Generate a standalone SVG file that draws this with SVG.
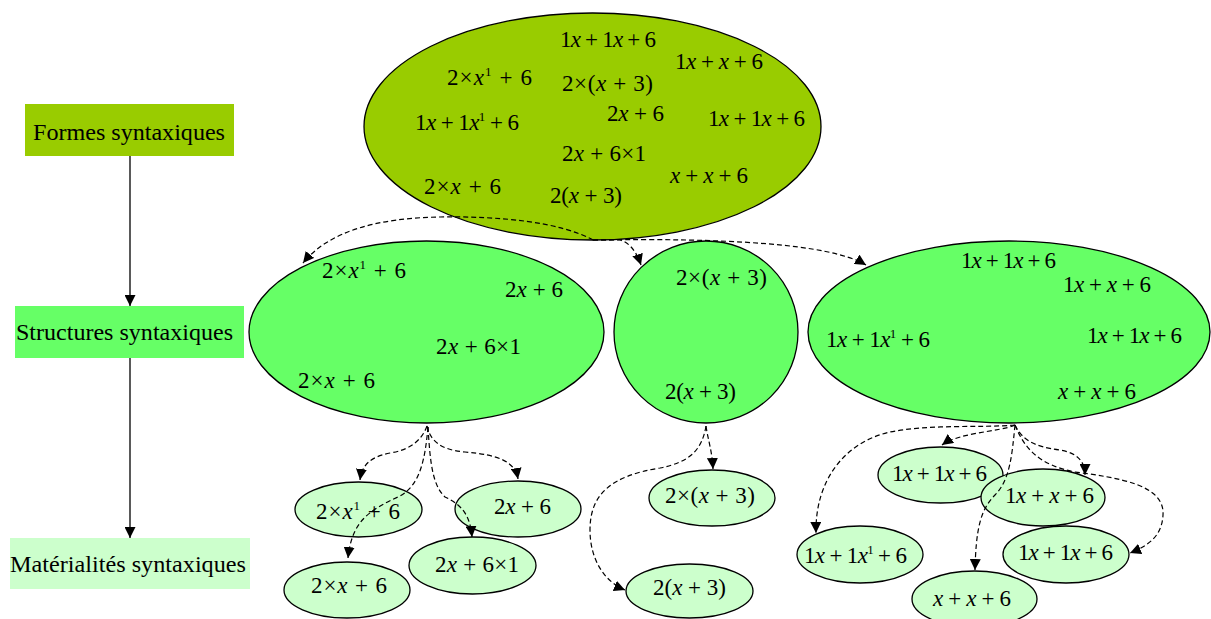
<svg xmlns="http://www.w3.org/2000/svg" width="1211" height="619" viewBox="0 0 1211 619">
<style>
.lbl{font-family:"Liberation Serif","Times New Roman",serif;font-size:24px;fill:#000}
.m{font-family:"Liberation Serif","Times New Roman",serif;font-size:23px;fill:#000}
.i{font-style:italic}
.s{font-size:13px}
.e{stroke:#000;stroke-width:1.3}
.top{fill:#99CC00}
.mid{fill:#66FF66}
.bot{fill:#CCFFCC}
.d{fill:none;stroke:#000;stroke-width:1.2;stroke-dasharray:5 3}
.solid{fill:none;stroke:#000;stroke-width:1.3}
</style>
<defs>
<marker id="ah" markerUnits="userSpaceOnUse" markerWidth="12" markerHeight="11" refX="11" refY="5.5" orient="auto"><path d="M0,0 L11,5.5 L0,11 z" fill="#000"/></marker>
</defs>

<g id="label-formes"><rect x="25" y="104" width="209" height="52" fill="#99CC00"/><text class="lbl" x="33" y="140" textLength="192" lengthAdjust="spacingAndGlyphs">Formes syntaxiques</text></g>
<g id="label-structures"><rect x="15" y="306" width="229" height="52" fill="#66FF66"/><text class="lbl" x="16" y="340" textLength="217" lengthAdjust="spacingAndGlyphs">Structures syntaxiques</text></g>
<g id="label-materialites"><rect x="10" y="538" width="240" height="51" fill="#CCFFCC"/><text class="lbl" x="10" y="572" textLength="236" lengthAdjust="spacingAndGlyphs">Matérialités syntaxiques</text></g>

<g id="formes">
<ellipse class="e top" cx="592.5" cy="126.5" rx="228.5" ry="113.5"/>
<text class="m" x="560" y="47" textLength="96">1<tspan class="i">x</tspan> + 1<tspan class="i">x</tspan> + 6</text>
<text class="m" x="675" y="69" textLength="88">1<tspan class="i">x</tspan> + <tspan class="i">x</tspan> + 6</text>
<text class="m" x="447" y="85" textLength="85">2×<tspan class="i">x</tspan><tspan class="s" dy="-9">1</tspan><tspan dy="9"> + 6</tspan></text>
<text class="m" x="562" y="91" textLength="91">2×(<tspan class="i">x</tspan> + 3)</text>
<text class="m" x="607" y="121" textLength="57">2<tspan class="i">x</tspan> + 6</text>
<text class="m" x="415" y="130" textLength="104">1<tspan class="i">x</tspan> + 1<tspan class="i">x</tspan><tspan class="s" dy="-9">1</tspan><tspan dy="9"> + 6</tspan></text>
<text class="m" x="708" y="126" textLength="97">1<tspan class="i">x</tspan> + 1<tspan class="i">x</tspan> + 6</text>
<text class="m" x="562" y="161" textLength="84">2<tspan class="i">x</tspan> + 6×1</text>
<text class="m" x="670" y="183" textLength="78"><tspan class="i">x</tspan> + <tspan class="i">x</tspan> + 6</text>
<text class="m" x="424" y="194" textLength="77">2×<tspan class="i">x</tspan> + 6</text>
<text class="m" x="550" y="203" textLength="72">2(<tspan class="i">x</tspan> + 3)</text>
</g>

<g id="structure-a">
<ellipse class="e mid" cx="426.5" cy="332" rx="177.5" ry="91"/>
<text class="m" x="322" y="278" textLength="84">2×<tspan class="i">x</tspan><tspan class="s" dy="-9">1</tspan><tspan dy="9"> + 6</tspan></text>
<text class="m" x="505" y="297" textLength="58">2<tspan class="i">x</tspan> + 6</text>
<text class="m" x="436" y="354" textLength="85">2<tspan class="i">x</tspan> + 6×1</text>
<text class="m" x="298" y="388" textLength="77">2×<tspan class="i">x</tspan> + 6</text>
</g>
<g id="structure-b">
<ellipse class="e mid" cx="706" cy="332" rx="92" ry="91"/>
<text class="m" x="676" y="285" textLength="91">2×(<tspan class="i">x</tspan> + 3)</text>
<text class="m" x="665" y="399" textLength="71">2(<tspan class="i">x</tspan> + 3)</text>
</g>
<g id="structure-c">
<ellipse class="e mid" cx="1009" cy="332" rx="201" ry="91"/>
<text class="m" x="961" y="268" textLength="95">1<tspan class="i">x</tspan> + 1<tspan class="i">x</tspan> + 6</text>
<text class="m" x="1063" y="292" textLength="88">1<tspan class="i">x</tspan> + <tspan class="i">x</tspan> + 6</text>
<text class="m" x="826" y="347" textLength="104">1<tspan class="i">x</tspan> + 1<tspan class="i">x</tspan><tspan class="s" dy="-9">1</tspan><tspan dy="9"> + 6</tspan></text>
<text class="m" x="1087" y="343" textLength="95">1<tspan class="i">x</tspan> + 1<tspan class="i">x</tspan> + 6</text>
<text class="m" x="1058" y="399" textLength="78"><tspan class="i">x</tspan> + <tspan class="i">x</tspan> + 6</text>
</g>

<g id="mat-a1"><ellipse class="e bot" cx="358.5" cy="509.5" rx="63.5" ry="27.5"/><text class="m" x="316" y="519" textLength="84">2×<tspan class="i">x</tspan><tspan class="s" dy="-9">1</tspan><tspan dy="9"> + 6</tspan></text></g>
<g id="mat-a2"><ellipse class="e bot" cx="518" cy="509" rx="63" ry="28"/><text class="m" x="494" y="514" textLength="57">2<tspan class="i">x</tspan> + 6</text></g>
<g id="mat-a3"><ellipse class="e bot" cx="472.5" cy="565.5" rx="63.5" ry="28.5"/><text class="m" x="435" y="572" textLength="84">2<tspan class="i">x</tspan> + 6×1</text></g>
<g id="mat-a4"><ellipse class="e bot" cx="347" cy="590" rx="63" ry="28"/><text class="m" x="311" y="593" textLength="76">2×<tspan class="i">x</tspan> + 6</text></g>
<g id="mat-b1"><ellipse class="e bot" cx="712" cy="498" rx="63" ry="28"/><text class="m" x="665" y="503" textLength="90">2×(<tspan class="i">x</tspan> + 3)</text></g>
<g id="mat-b2"><ellipse class="e bot" cx="689.5" cy="591" rx="63.5" ry="27"/><text class="m" x="653" y="595" textLength="73">2(<tspan class="i">x</tspan> + 3)</text></g>
<g id="mat-c1"><ellipse class="e bot" cx="940.5" cy="475" rx="62.5" ry="28"/><text class="m" x="892" y="481" textLength="95">1<tspan class="i">x</tspan> + 1<tspan class="i">x</tspan> + 6</text></g>
<g id="mat-c2"><ellipse class="e bot" cx="1043" cy="497.5" rx="62" ry="28.5"/><text class="m" x="1005" y="503" textLength="89">1<tspan class="i">x</tspan> + <tspan class="i">x</tspan> + 6</text></g>
<g id="mat-c3"><ellipse class="e bot" cx="860" cy="554.5" rx="63" ry="28.5"/><text class="m" x="804" y="563" textLength="103">1<tspan class="i">x</tspan> + 1<tspan class="i">x</tspan><tspan class="s" dy="-9">1</tspan><tspan dy="9"> + 6</tspan></text></g>
<g id="mat-c4"><ellipse class="e bot" cx="1066" cy="554.5" rx="63" ry="28.5"/><text class="m" x="1018" y="560" textLength="95">1<tspan class="i">x</tspan> + 1<tspan class="i">x</tspan> + 6</text></g>
<g id="mat-c5"><ellipse class="e bot" cx="974.5" cy="599" rx="62.5" ry="28"/><text class="m" x="933" y="606" textLength="78"><tspan class="i">x</tspan> + <tspan class="i">x</tspan> + 6</text></g>

<g id="connectors">
<path class="solid" d="M130,156 L130,306" marker-end="url(#ah)"/>
<path class="solid" d="M130,358 L130,538" marker-end="url(#ah)"/>
<path class="d" d="M593,240 C560,222 500,216 440,217 C380,218 330,230 303,263" marker-end="url(#ah)"/>
<path class="d" d="M593,240 L620,240 C628,242 636,250 641,265" marker-end="url(#ah)"/>
<path class="d" d="M593,240 C720,238 830,243 866,265" marker-end="url(#ah)"/>
<path class="d" d="M427,426 C422,440 410,450 390,453 C370,457 362,465 360,480" marker-end="url(#ah)"/>
<path class="d" d="M427,426 C430,440 440,450 465,452 C500,455 515,462 518,479" marker-end="url(#ah)"/>
<path class="d" d="M428,427 C425,460 420,485 400,496 C370,510 352,520 348,558" marker-end="url(#ah)"/>
<path class="d" d="M428,427 C430,460 432,485 445,497 C462,505 470,515 472,537" marker-end="url(#ah)"/>
<path class="d" d="M706,426 C708,440 712,450 713,469" marker-end="url(#ah)"/>
<path class="d" d="M706,426 C702,450 690,462 660,468 C610,476 590,495 590,530 C590,560 605,582 625,590" marker-end="url(#ah)"/>
<path class="d" d="M1015,425 C1000,432 960,432 942,445" marker-end="url(#ah)"/>
<path class="d" d="M1015,425 C980,428 930,424 890,432 C845,442 815,480 816,533" marker-end="url(#ah)"/>
<path class="d" d="M1015,425 C1022,440 1035,447 1060,450 C1078,453 1085,462 1085,475" marker-end="url(#ah)"/>
<path class="d" d="M1015,425 C1012,455 1010,480 995,495 C980,510 976,530 975,570" marker-end="url(#ah)"/>
<path class="d" d="M1015,425 C1025,450 1040,465 1075,472 C1120,478 1165,485 1163,515 C1162,535 1150,545 1130,553" marker-end="url(#ah)"/>
</g>
</svg>
